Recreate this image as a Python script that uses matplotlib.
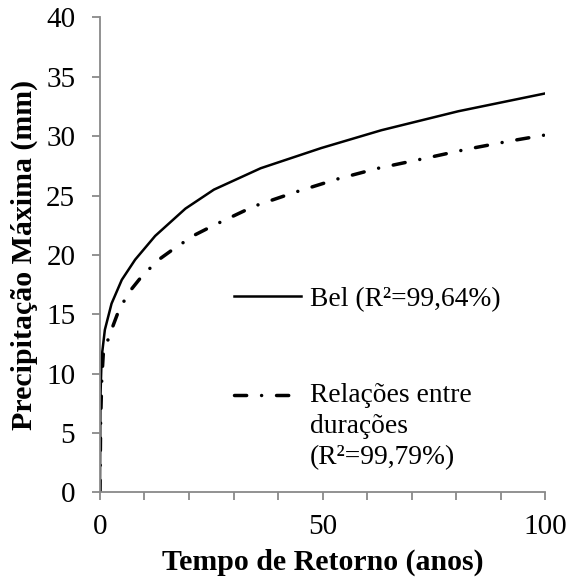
import matplotlib
matplotlib.use('Agg')
import matplotlib.pyplot as plt
import numpy as np
from matplotlib.ticker import MultipleLocator
from matplotlib.legend_handler import HandlerLine2D

plt.rcParams['font.family'] = ['Liberation Serif', 'DejaVu Serif']

# dados
tempo_bel = [0, 0.1, 0.38, 1.1, 2.6, 4.9, 7.9, 12.4, 19.2, 25.6, 36.1, 49.7, 63.2, 80.5, 100]
prec_bel = [0, 8.0, 11.4, 13.7, 15.9, 17.9, 19.6, 21.6, 23.9, 25.5, 27.3, 29.0, 30.5, 32.1, 33.6]

tempo_rel = [0, 0.15, 0.4, 0.75, 2.3, 4.1, 6.4, 9.4, 13.2, 16.9, 21.4, 25.6, 34.6, 44, 53.4, 62.5, 72.6, 82.4, 92.2, 100]
prec_rel = [0, 6.0, 9.5, 11.7, 13.4, 15.2, 16.8, 18.2, 19.6, 20.6, 21.7, 22.5, 24.1, 25.3, 26.4, 27.3, 28.1, 28.9, 29.6, 30.1]

label_bel = 'Bel (R²=99,64%)'
label_rel = 'Relações entre\ndurações\n(R²=99,79%)'

fs_tick = 21
fs_lab = 21.5
fs_leg = 19.8
espaco = 1.30


# desloca o traço da legenda para a primeira linha do rótulo
class HandlerTopo(HandlerLine2D):
    def __init__(self, n_linhas, **kw):
        super().__init__(**kw)
        self.n_linhas = n_linhas

    def create_artists(self, legend, orig_handle, xdescent, ydescent, width, height, fontsize, trans):
        arts = super().create_artists(legend, orig_handle, xdescent, ydescent, width, height, fontsize, trans)
        dy = (self.n_linhas - 1) / 2 * espaco * 0.885 * fontsize
        for a in arts:
            a.set_ydata(np.asarray(a.get_ydata()) + dy)
        return arts


fig = plt.figure(figsize=(5.69, 5.82), dpi=100)
ax = fig.add_axes([0.1757, 0.154, 0.7823, 0.816])

l1, = ax.plot(tempo_bel, prec_bel, color='black', lw=1.8, label=label_bel)
l2, = ax.plot(tempo_rel, prec_rel, color='black', lw=2.5, dashes=(3.5, 4.3, 0.01, 4.3),
              dash_capstyle='round', label=label_rel)

ax.set_xlim(0, 100)
ax.set_ylim(0, 40)
ax.xaxis.set_major_locator(MultipleLocator(50))
ax.xaxis.set_minor_locator(MultipleLocator(10))
ax.yaxis.set_major_locator(MultipleLocator(5))

for s in ['top', 'right']:
    ax.spines[s].set_visible(False)
for s in ['left', 'bottom']:
    ax.spines[s].set_color('#898989')
    ax.spines[s].set_linewidth(1.3)

ax.tick_params(axis='both', which='both', direction='out', color='#898989', width=1.3, length=5.8,
               labelsize=fs_tick)
ax.tick_params(axis='x', which='both', pad=9.5)
ax.tick_params(axis='y', pad=12)

ax.set_xlabel('Tempo de Retorno (anos)', fontsize=fs_lab, fontweight='bold', labelpad=6.5)
ax.set_ylabel('Precipitação Máxima (mm)', fontsize=fs_lab, fontweight='bold', labelpad=5.5)

leg = ax.legend(handles=[l1, l2], loc='upper left', bbox_to_anchor=(0.3, 0.433), frameon=False,
                fontsize=fs_leg, handlelength=2.47, handletextpad=0.3, labelspacing=2.6,
                borderpad=0, borderaxespad=0,
                handler_map={l2: HandlerTopo(3)})
for t in leg.get_texts():
    t.set_linespacing(espaco)

fig.savefig('out.png', dpi=100)
